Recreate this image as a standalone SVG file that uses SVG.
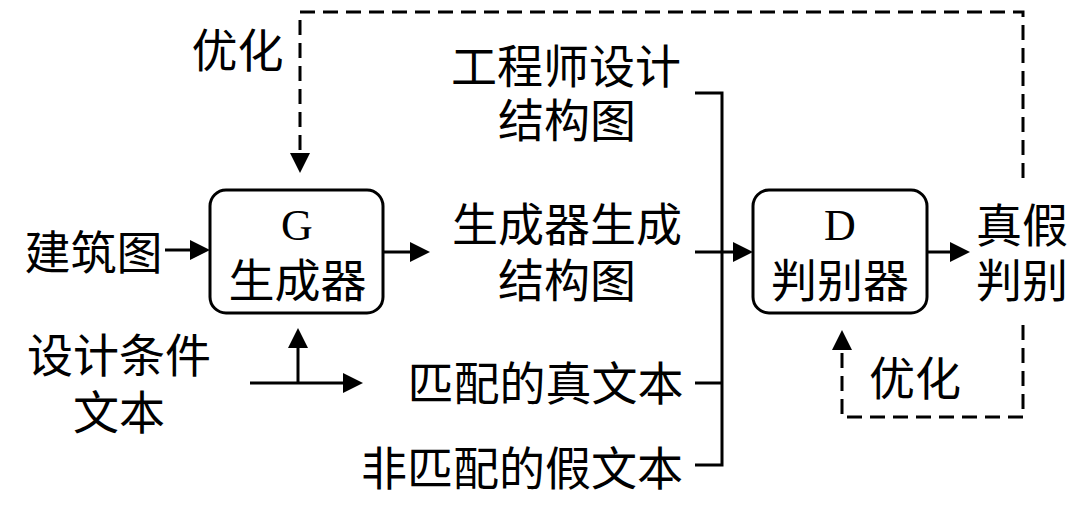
<svg xmlns="http://www.w3.org/2000/svg" width="1080" height="505" viewBox="0 0 1080 505">
<style>
.t{font-family:"Noto Sans CJK SC","Noto Sans CJK JP",sans-serif;font-size:46px;fill:#000;text-anchor:middle}
.l{font-family:"Liberation Serif",serif;font-size:44px;fill:#000;text-anchor:middle}
.box{fill:#fff;stroke:#000;stroke-width:3}
.ln{fill:none;stroke:#000;stroke-width:3}
.dash{fill:none;stroke:#000;stroke-width:3;stroke-dasharray:15 8}
</style>
<defs>
<marker id="ah" viewBox="0 0 20 20" refX="10" refY="10" markerWidth="20" markerHeight="20" markerUnits="userSpaceOnUse" orient="auto">
<path d="M0,0 L20,10 L0,20 z" fill="#000"/>
</marker>
</defs>
<g id="connectors">
<path class="dash" d="M1023,178 V12 H300 V163" marker-end="url(#ah)"/>
<path class="dash" d="M1023,325 V417 H842 V340" marker-end="url(#ah)"/>
<path class="ln" d="M165,250 H200" marker-end="url(#ah)"/>
<path class="ln" d="M383,252 H420" marker-end="url(#ah)"/>
<path class="ln" d="M298,383 V338" marker-end="url(#ah)"/>
<path class="ln" d="M250,383 H353" marker-end="url(#ah)"/>
<path class="ln" d="M695,93 H722 V465 H695"/>
<path class="ln" d="M695,383 H722"/>
<path class="ln" d="M695,252 H743" marker-end="url(#ah)"/>
<path class="ln" d="M927,252 H960" marker-end="url(#ah)"/>
</g>
<g id="G">
<rect class="box" x="210" y="190" width="173" height="123" rx="16"/>
<text class="l" x="297" y="240">G</text>
<text class="t" x="297.5" y="296.5">生成器</text>
</g>
<g id="D">
<rect class="box" x="753" y="190" width="174" height="123" rx="16"/>
<text class="l" x="840" y="240">D</text>
<text class="t" x="840" y="296.5">判别器</text>
</g>
<g id="building">
<text class="t" x="93.5" y="268.5">建筑图</text>
</g>
<g id="condition">
<text class="t" x="119" y="371.5">设计条件<tspan x="119" dy="57">文本</tspan></text>
</g>
<g id="engineer">
<text class="t" x="566" y="83">工程师设计<tspan x="567" dy="53.5">结构图</tspan></text>
</g>
<g id="generated">
<text class="t" x="567" y="240.5">生成器生成<tspan x="567" dy="56">结构图</tspan></text>
</g>
<g id="realtext">
<text class="t" x="545.5" y="399.5">匹配的真文本</text>
</g>
<g id="faketext">
<text class="t" x="522" y="484.5">非匹配的假文本</text>
</g>
<g id="judge">
<text class="t" x="1022" y="241.5">真假<tspan x="1022" dy="55">判别</tspan></text>
</g>
<g id="opt1">
<text class="t" x="237.5" y="66.5">优化</text>
</g>
<g id="opt2">
<text class="t" x="915" y="394.5">优化</text>
</g>
</svg>
